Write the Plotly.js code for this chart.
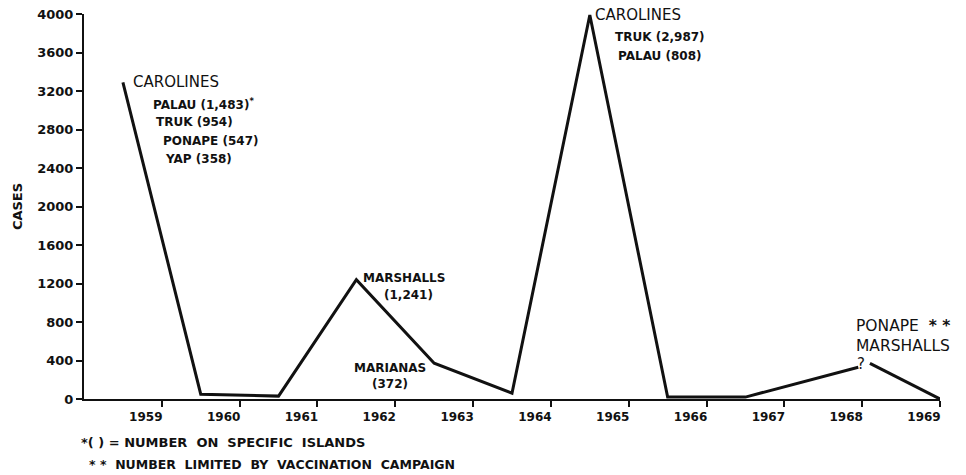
<!DOCTYPE html>
<html>
<head>
<meta charset="utf-8">
<script src="https://cdn.plot.ly/plotly-3.0.1.min.js"></script>
<style>html,body{margin:0;padding:0;background:#fff;}#chart{width:966px;height:475px;}</style>
</head>
<body>
<div id="chart"></div>
<script>
// Data
const years = [1958.5, 1959.5, 1960.5, 1961.5, 1962.5, 1963.5, 1964.5, 1965.5, 1966.5, 1967.95, 1968.02, 1968.1, 1969.0];
const cases = [3290, 50, 30, 1240, 372, 60, 3990, 20, 20, 330, null, 370, 0];
const yTicks = [0, 400, 800, 1200, 1600, 2000, 2400, 2800, 3200, 3600, 4000];
const xTicks = [1959, 1960, 1961, 1962, 1963, 1964, 1965, 1966, 1967, 1968, 1969];
const xTickLabels = ['1959', '1960', '1961', '1962', '1963', '1964', '1965', '1966', '1967', '1968', '1969'];

const F = 'DejaVu Sans, Liberation Sans, sans-serif';
const big = {family: F, size: 15, color: '#111'};
const small = {family: F, size: 12, color: '#111', weight: 'bold'};

function ann(text, x, y, font, anchor, align) {
  return {text: text, x: x, y: y, xref: 'x', yref: 'y', showarrow: false,
          xanchor: anchor || 'left', yanchor: 'middle', align: align || 'left', font: font};
}

const annotations = [
  ann('CAROLINES', 1958.6, 3294, big),
  ann('PALAU (1,483)<sup>*</sup>', 1958.86, 3065, small),
  ann('TRUK (954)', 1958.9, 2878, small),
  ann('PONAPE (547)', 1958.99, 2680, small),
  ann('YAP (358)', 1959.02, 2494, small),
  ann('CAROLINES', 1964.54, 3985, big),
  ann('TRUK (2,987)', 1964.8, 3761, small),
  ann('PALAU (808)', 1964.84, 3564, small),
  ann('MARSHALLS', 1961.56, 1257, small),
  ann('(1,241)', 1961.83, 1081, small),
  ann('MARIANAS', 1961.45, 322, small),
  ann('(372)', 1961.67, 156, small),
  ann('PONAPE  <b>* *</b><br>MARSHALLS', 1967.89, 650, {family: F, size: 15.5, color: '#111'}),
  ann('?', 1967.99, 360, big, 'center'),
  {text: '<b>*</b>( ) = NUMBER  ON  SPECIFIC  ISLANDS', xref: 'paper', yref: 'paper',
   x: -0.006, y: -0.114, xanchor: 'left', yanchor: 'middle', showarrow: false,
   font: {family: F, size: 13, color: '#111', weight: 'bold'}},
  {text: '* *  NUMBER  LIMITED  BY  VACCINATION  CAMPAIGN', xref: 'paper', yref: 'paper',
   x: 0.004, y: -0.171, xanchor: 'left', yanchor: 'middle', showarrow: false,
   font: {family: F, size: 12.5, color: '#111', weight: 'bold'}}
];

const trace = {
  x: years, y: cases, type: 'scatter', mode: 'lines',
  line: {color: '#111', width: 3}, connectgaps: false, hoverinfo: 'none'
};

const layout = {
  width: 966, height: 475,
  margin: {l: 84, r: 26, t: 14, b: 76},
  paper_bgcolor: '#fff', plot_bgcolor: '#fff',
  showlegend: false,
  xaxis: {
    range: [1958, 1969], tickmode: 'array', tickvals: xTicks, ticktext: xTickLabels,
    showgrid: false, zeroline: false, showline: true, linecolor: '#111', linewidth: 2,
    ticks: 'outside', ticklen: 6, tickwidth: 2, tickcolor: '#111',
    ticklabelshift: -16,
    tickfont: {family: F, size: 12, color: '#111', weight: 'bold'}
  },
  yaxis: {
    range: [0, 4000], tickmode: 'array', tickvals: yTicks,
    showgrid: false, zeroline: false, showline: true, linecolor: '#111', linewidth: 2,
    ticks: 'outside', ticklen: 6, tickwidth: 2, tickcolor: '#111',
    tickfont: {family: F, size: 13, color: '#111', weight: 'bold'},
    title: {text: 'CASES', font: {family: F, size: 13, color: '#111', weight: 'bold'}, standoff: 12}
  },
  annotations: annotations
};

Plotly.newPlot('chart', [trace], layout, {staticPlot: true, displayModeBar: false});
</script>
</body>
</html>
